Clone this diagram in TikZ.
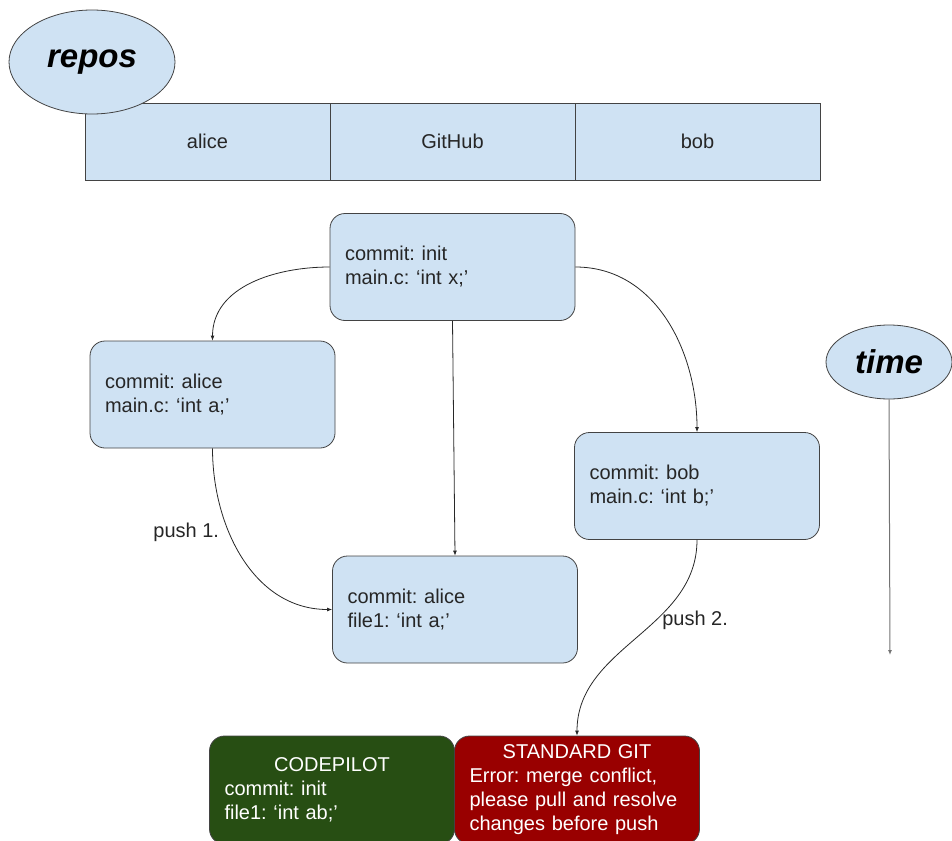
\documentclass[tikz,border=0pt]{standalone}
\usepackage{fontspec}
\setmainfont{Liberation Sans}
\usepackage{tikz}
\usetikzlibrary{shapes.geometric,arrows.meta,positioning}
\frenchspacing
\definecolor{repoFill}{RGB}{207,226,243}
\definecolor{repoLine}{RGB}{67,67,67}
\definecolor{pilotFill}{RGB}{39,78,19}
\definecolor{gitFill}{RGB}{153,0,0}
\definecolor{arrowLine}{RGB}{40,40,40}
\tikzset{
  titleoval/.style={ellipse, draw=repoLine, fill=repoFill, thick, inner sep=0pt,
    font=\fontsize{33}{38}\selectfont\bfseries\itshape},
  repocell/.style={rectangle, draw=repoLine, fill=repoFill, thick,
    minimum width=245pt, minimum height=77pt, inner sep=0pt,
    font=\fontsize{20}{24}\selectfont, text=black!85},
  commitbox/.style={rectangle, draw=repoLine, fill=repoFill, thick, rounded corners=15pt,
    minimum width=245pt, minimum height=107pt, inner xsep=15pt, inner ysep=0pt,
    text width=215pt, align=left, font=\fontsize{20}{24}\selectfont, text=black!85},
  resultbox/.style={commitbox, minimum height=108pt, text=white},
  pilotbox/.style={resultbox, fill=pilotFill},
  gitbox/.style={resultbox, fill=gitFill},
  edgelabel/.style={font=\fontsize{20}{24}\selectfont, text=black!85, inner sep=2pt},
  commitarrow/.style={-{Latex[length=5pt,width=4pt]}, draw=arrowLine, line width=0.8pt},
  timearrow/.style={-{Latex[length=5pt,width=4pt]}, draw=black!55, line width=1pt},
}
\begin{document}
\begin{tikzpicture}[x=1pt,y=1pt]
  \useasboundingbox (0,0) rectangle (952,-840);

  % --- Repositories row ---
  \node[repocell] (alicecol) at (207.5,-141.5) {alice};
  \node[repocell] (githubcol) at (452.5,-141.5) {GitHub};
  \node[repocell] (bobcol) at (697.5,-141.5) {bob};
  \node[titleoval, minimum width=166pt, minimum height=104pt] (repos) at (92,-62) {repos};

  % --- Commits ---
  \node[commitbox] (init) at (452.5,-267) {commit: init\\main.c: `int x;'};
  \node[commitbox] (alicecommit) at (212.5,-394.5) {commit: alice\\main.c: `int a;'};
  \node[commitbox] (bobcommit) at (697,-486) {commit: bob\\main.c: `int b;'};
  \node[commitbox] (githubcommit) at (455,-609.5) {commit: alice\\file1: `int a;'};

  % --- Outcomes ---
  \node[pilotbox] (codepilot) at (332,-790)
    {\hfill CODEPILOT\hfill\hbox{}\\commit: init\\file1: `int ab;'};
  \node[gitbox] (stdgit) at (577,-790)
    {\hfill STANDARD GIT\hfill\hbox{}\\Error: merge conflict,\\please pull and resolve\\changes before push};

  % --- Time axis ---
  \node[titleoval, minimum width=126pt, minimum height=74pt] (time) at (889,-362) {time};
  \coordinate (timeend) at (890,-655);

  % --- History ---
  \draw[commitarrow] (init.west) to[out=180,in=90] (alicecommit.north);
  \draw[commitarrow] (init.east) to[out=0,in=90] (bobcommit.north);
  \draw[commitarrow] (init.south) -- (githubcommit.north);
  \draw[commitarrow] (alicecommit.south) to[out=-90,in=180]
    node[edgelabel,pos=0.35,anchor=east,xshift=-6pt,yshift=-4pt]{push 1.} (githubcommit.west);
  \draw[commitarrow] (bobcommit.south) to[out=-90,in=90]
    node[edgelabel,pos=0.37,anchor=west,yshift=-4pt]{push 2.} (stdgit.north);
  \draw[timearrow] (time.south) -- (timeend);
\end{tikzpicture}
\end{document}
